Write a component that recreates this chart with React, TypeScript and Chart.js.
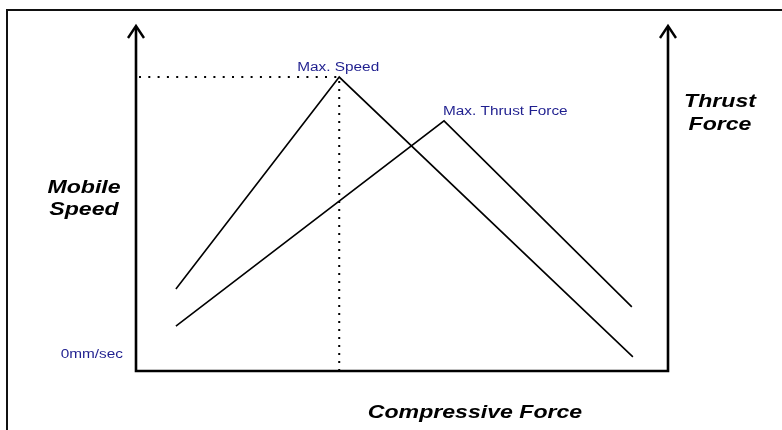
import React, { useEffect, useRef } from "react";
import { Chart, registerables } from "chart.js";

Chart.register(...registerables);

// Compressive force (x, 0..100) and response values (y, 0..100)
const speedForce = [7.5, 38.2, 93.4];
const speedValues = [23.8, 85.2, 4.1];
const thrustForce = [7.5, 57.9, 93.2];
const thrustValues = [13.0, 72.5, 18.6];

const xAxisTitle = "Compressive Force";
const leftAxisTitle = ["Mobile", "Speed"];
const rightAxisTitle = ["Thrust", "Force"];
const zeroTickLabel = "0mm/sec";
const speedPeakLabel = "Max. Speed";
const thrustPeakLabel = "Max. Thrust Force";

const BLUE = "#1f1f8f";
const SMALL_FONT = '12px "Liberation Sans", Arial, sans-serif';
const BIG_FONT = 'italic bold 17.5px "Liberation Sans", Arial, sans-serif';
const SMALL_SX = 1.28;
const BIG_SX = 1.32;

function stretchedText(
  ctx: CanvasRenderingContext2D,
  text: string,
  x: number,
  y: number,
  sx: number,
  align: CanvasTextAlign
) {
  ctx.save();
  ctx.translate(x, y);
  ctx.scale(sx, 1);
  ctx.textAlign = align;
  ctx.textBaseline = "alphabetic";
  ctx.fillText(text, 0, 0);
  ctx.restore();
}

const decorPlugin = {
  id: "decor",
  afterDraw(chart: any) {
    const ctx: CanvasRenderingContext2D = chart.ctx;
    const { left, right, top, bottom } = chart.chartArea;
    const xs = chart.scales.x;
    const ys = chart.scales.y;
    ctx.save();

    // outer frame
    ctx.strokeStyle = "#111";
    ctx.lineWidth = 2;
    ctx.beginPath();
    ctx.moveTo(chart.width + 5, 10);
    ctx.lineTo(7, 10);
    ctx.lineTo(7, chart.height + 5);
    ctx.stroke();

    // axes
    ctx.strokeStyle = "#000";
    ctx.lineWidth = 2.6;
    ctx.lineCap = "butt";
    ctx.lineJoin = "miter";
    ctx.beginPath();
    ctx.moveTo(left, top + 1);
    ctx.lineTo(left, bottom);
    ctx.lineTo(right, bottom);
    ctx.lineTo(right, top + 1);
    ctx.stroke();

    // arrow heads
    ctx.lineWidth = 2.4;
    for (const ax of [left, right]) {
      ctx.beginPath();
      ctx.moveTo(ax - 8, top + 12);
      ctx.lineTo(ax, top);
      ctx.lineTo(ax + 8, top + 12);
      ctx.stroke();
    }

    // blue labels
    ctx.fillStyle = BLUE;
    ctx.font = SMALL_FONT;
    const spx = xs.getPixelForValue(speedForce[1]);
    const spy = ys.getPixelForValue(speedValues[1]);
    stretchedText(ctx, speedPeakLabel, spx - 1, spy - 6, SMALL_SX, "center");
    const tpx = xs.getPixelForValue(thrustForce[1]);
    const tpy = ys.getPixelForValue(thrustValues[1]);
    stretchedText(ctx, thrustPeakLabel, tpx - 1, tpy - 6, SMALL_SX, "left");
    stretchedText(ctx, zeroTickLabel, left - 13, bottom - 13.5, SMALL_SX, "right");

    // axis titles
    ctx.fillStyle = "#000";
    ctx.font = BIG_FONT;
    stretchedText(ctx, leftAxisTitle[0], left - 52, 193, BIG_SX, "center");
    stretchedText(ctx, leftAxisTitle[1], left - 52, 215, BIG_SX, "center");
    stretchedText(ctx, rightAxisTitle[0], right + 52, 107, BIG_SX, "center");
    stretchedText(ctx, rightAxisTitle[1], right + 52, 130, BIG_SX, "center");
    stretchedText(ctx, xAxisTitle, (left + right) / 2 + 73, bottom + 47, BIG_SX, "center");

    ctx.restore();
  },
};

export default function App() {
  const ref = useRef<HTMLCanvasElement | null>(null);

  useEffect(() => {
    document.body.style.margin = "0";
    const canvas = ref.current;
    if (!canvas) return;
    const pts = (xs: number[], ys: number[]) => xs.map((x, i) => ({ x, y: ys[i] }));
    const chart = new Chart(canvas, {
      type: "line",
      data: {
        datasets: [
          {
            data: pts(speedForce, speedValues),
            borderColor: "#000",
            borderWidth: 1.6,
            pointRadius: 0,
            tension: 0,
          },
          {
            data: pts(thrustForce, thrustValues),
            borderColor: "#000",
            borderWidth: 1.6,
            pointRadius: 0,
            tension: 0,
          },
          {
            data: [
              { x: 0, y: speedValues[1] },
              { x: speedForce[1], y: speedValues[1] },
            ],
            borderColor: "#000",
            borderWidth: 2,
            borderDash: [2, 7.3],
            borderDashOffset: -3,
            pointRadius: 0,
          },
          {
            data: [
              { x: speedForce[1], y: 0 },
              { x: speedForce[1], y: speedValues[1] },
            ],
            borderColor: "#000",
            borderWidth: 2,
            borderDash: [2, 6],
            borderDashOffset: 0,
            pointRadius: 0,
          },
        ],
      },
      options: {
        animation: false,
        responsive: false,
        events: [],
        layout: { padding: { left: 136, right: 114, top: 26, bottom: 59 } },
        plugins: { legend: { display: false }, tooltip: { enabled: false } },
        scales: {
          x: { type: "linear", min: 0, max: 100, display: false },
          y: { type: "linear", min: 0, max: 100, display: false },
        },
      },
      plugins: [decorPlugin],
    });
    return () => chart.destroy();
  }, []);

  return (
    <div style={{ position: "absolute", left: 0, top: 0, width: 782, height: 430, background: "#fff" }}>
      <canvas ref={ref} width={782} height={430} style={{ width: 782, height: 430, display: "block" }} />
    </div>
  );
}
